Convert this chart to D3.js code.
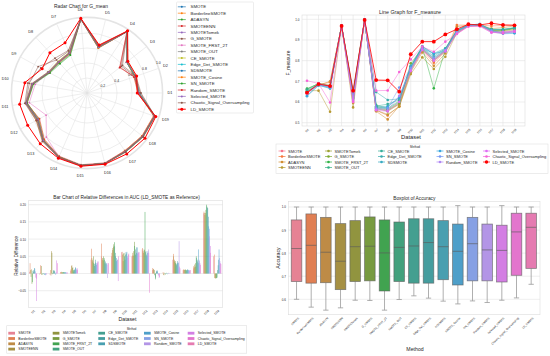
<!DOCTYPE html>
<html><head><meta charset="utf-8">
<script src="https://cdnjs.cloudflare.com/ajax/libs/d3/7.8.5/d3.min.js"></script>
<style>
body{margin:0;background:#fff}
svg{display:block}
text{font-family:"Liberation Sans",Arial,sans-serif;fill:#262626}
</style></head>
<body><svg id="c" width="550" height="356"></svg>
<script>
// ---------------- DATA ----------------
const methods = ["SMOTE","BorderlineSMOTE","ADASYN","SMOTEENN","SMOTETomek","G_SMOTE","SMOTE_FRST_2T","SMOTE_OUT","CE_SMOTE","Edge_Det_SMOTE","SDSMOTE","SMOTE_Cosine","SN_SMOTE","Random_SMOTE","Selected_SMOTE","Chaotic_Signal_Oversampling","LD_SMOTE"];
const datasets = ["D1","D2","D3","D4","D5","D6","D7","D8","D9","D10","D11","D12","D13","D14","D15","D16","D17","D18","D19"];

const radarTicks = [0.2,0.4,0.6,0.8,1.0];
const lineTicks = [0.5,0.6,0.7,0.8,0.9,1.0];
const barTicks = [-0.05,0.00,0.05,0.10,0.15,0.20];
const boxTicks = [0.6,0.7,0.8,0.9,1.0];

// G_mean per method (rows) and dataset (columns)
const radarGmean = [
 [0.69,0.68,0.68,0.98,0.63,0.99,0.58,0.56,0.57,0.73,0.82,0.75,0.86,0.93,0.97,0.97,0.93,0.94,0.95],
 [0.70,0.69,0.69,0.98,0.64,0.99,0.59,0.57,0.59,0.75,0.83,0.77,0.87,0.94,0.97,0.97,0.94,0.95,0.96],
 [0.69,0.67,0.67,0.98,0.62,0.99,0.55,0.53,0.56,0.72,0.81,0.73,0.85,0.93,0.97,0.97,0.93,0.94,0.95],
 [0.68,0.66,0.56,0.97,0.62,0.98,0.57,0.55,0.58,0.74,0.82,0.72,0.84,0.92,0.96,0.96,0.92,0.93,0.94],
 [0.69,0.68,0.68,0.98,0.63,0.99,0.58,0.56,0.58,0.74,0.82,0.75,0.86,0.93,0.97,0.97,0.93,0.94,0.95],
 [0.71,0.68,0.58,0.98,0.65,0.99,0.61,0.60,0.74,0.78,0.83,0.76,0.87,0.94,0.97,0.97,0.94,0.95,0.96],
 [0.69,0.68,0.67,0.98,0.63,0.99,0.58,0.56,0.58,0.70,0.78,0.62,0.80,0.93,0.97,0.97,0.93,0.94,0.95],
 [0.69,0.68,0.67,0.98,0.63,0.99,0.59,0.57,0.59,0.75,0.83,0.76,0.86,0.93,0.97,0.97,0.93,0.94,0.95],
 [0.69,0.68,0.68,0.98,0.64,0.99,0.59,0.57,0.58,0.74,0.82,0.75,0.87,0.93,0.97,0.97,0.94,0.95,0.95],
 [0.70,0.68,0.68,0.98,0.63,0.99,0.58,0.56,0.58,0.74,0.82,0.75,0.86,0.93,0.97,0.97,0.94,0.95,0.96],
 [0.69,0.68,0.67,0.98,0.63,0.99,0.58,0.55,0.57,0.73,0.82,0.74,0.86,0.94,0.97,0.97,0.93,0.94,0.95],
 [0.68,0.67,0.67,0.98,0.62,0.99,0.57,0.55,0.57,0.73,0.81,0.73,0.85,0.93,0.97,0.97,0.92,0.93,0.94],
 [0.69,0.68,0.67,0.98,0.63,0.99,0.56,0.54,0.57,0.73,0.81,0.74,0.86,0.93,0.97,0.97,0.93,0.94,0.95],
 [0.69,0.67,0.55,0.98,0.64,0.99,0.58,0.56,0.58,0.74,0.82,0.75,0.86,0.93,0.97,0.97,0.93,0.94,0.95],
 [0.69,0.68,0.67,0.98,0.63,0.99,0.58,0.56,0.58,0.74,0.82,0.74,0.86,0.94,0.97,0.97,0.93,0.94,0.95],
 [0.72,0.69,0.60,0.98,0.65,0.99,0.62,0.63,0.70,0.80,0.84,0.77,0.88,0.94,0.97,0.97,0.94,0.95,0.96],
 [0.67,0.70,0.69,0.99,0.66,1.00,0.73,0.73,0.68,0.84,0.91,0.90,0.92,0.95,0.98,0.98,0.97,0.98,0.97]
];

// F_measure per method (rows) and dataset (columns)
const lineFmeasure = [
 [0.640,0.690,0.680,0.968,0.640,0.997,0.565,0.560,0.590,0.760,0.855,0.800,0.850,0.930,0.968,0.970,0.940,0.935,0.945],
 [0.645,0.685,0.695,0.968,0.620,0.997,0.560,0.535,0.580,0.755,0.850,0.790,0.845,0.972,0.972,0.972,0.968,0.970,0.972],
 [0.650,0.680,0.700,0.968,0.595,0.997,0.555,0.516,0.580,0.745,0.840,0.775,0.835,0.965,0.970,0.972,0.955,0.960,0.968],
 [0.655,0.655,0.553,0.968,0.574,0.997,0.560,0.540,0.577,0.735,0.816,0.760,0.819,0.935,0.968,0.970,0.945,0.945,0.955],
 [0.650,0.685,0.675,0.968,0.630,0.997,0.570,0.555,0.590,0.750,0.855,0.800,0.845,0.935,0.968,0.970,0.942,0.940,0.950],
 [0.660,0.690,0.680,0.968,0.635,0.997,0.575,0.560,0.595,0.787,0.860,0.805,0.850,0.940,0.970,0.972,0.945,0.945,0.955],
 [0.665,0.688,0.678,0.968,0.640,0.997,0.580,0.565,0.600,0.770,0.865,0.666,0.855,0.945,0.970,0.972,0.948,0.948,0.958],
 [0.662,0.688,0.675,0.968,0.645,0.997,0.585,0.570,0.605,0.770,0.862,0.810,0.855,0.942,0.970,0.972,0.950,0.950,0.958],
 [0.655,0.686,0.672,0.968,0.640,0.997,0.580,0.590,0.610,0.765,0.865,0.820,0.858,0.945,0.970,0.975,0.952,0.952,0.960],
 [0.652,0.684,0.670,0.968,0.635,0.997,0.648,0.610,0.615,0.770,0.868,0.835,0.860,0.945,0.972,0.975,0.950,0.950,0.958],
 [0.630,0.682,0.665,0.968,0.625,0.997,0.575,0.580,0.620,0.775,0.870,0.830,0.855,0.948,0.972,0.977,0.945,0.935,0.935],
 [0.628,0.680,0.668,0.968,0.620,0.997,0.570,0.575,0.625,0.760,0.860,0.835,0.845,0.945,0.972,0.977,0.940,0.930,0.932],
 [0.640,0.684,0.672,0.968,0.615,0.997,0.568,0.570,0.670,0.765,0.858,0.815,0.850,0.940,0.970,0.975,0.945,0.932,0.940],
 [0.645,0.686,0.674,0.968,0.610,0.997,0.565,0.560,0.630,0.755,0.855,0.805,0.850,0.935,0.968,0.972,0.940,0.935,0.945],
 [0.642,0.688,0.676,0.968,0.605,0.997,0.560,0.555,0.600,0.750,0.852,0.800,0.845,0.930,0.966,0.968,0.935,0.940,0.942],
 [0.703,0.690,0.598,0.968,0.600,0.997,0.655,0.656,0.745,0.806,0.868,0.843,0.892,0.929,0.965,0.965,0.937,0.932,0.940],
 [0.645,0.687,0.677,0.968,0.655,0.997,0.706,0.705,0.650,0.831,0.892,0.892,0.927,0.952,0.976,0.973,0.981,0.973,0.971]
];

// Relative difference in AUC, per dataset (rows) and method (columns)
const aucRelDiff = [
 [0.005,0.030,0.010,-0.010,0.012,-0.030,-0.025,0.008,0.005,0.010,0.016,0.014,0.006,-0.012,-0.080,-0.015,0],
 [-0.003,0.024,0.002,-0.004,0.022,0.000,-0.003,-0.002,0.001,0.000,-0.004,-0.003,-0.005,-0.002,-0.003,0.000,0],
 [-0.004,0.010,-0.006,0.065,0.060,-0.002,0.002,0.008,0.010,0.008,0.006,0.002,-0.004,0.003,0.038,0.030,0],
 [0.003,0.004,0.003,0.005,0.004,0.003,0.004,0.004,0.003,0.004,0.003,0.004,0.003,0.003,0.002,0.003,0],
 [0.008,0.012,0.022,0.024,0.016,0.018,0.010,0.006,0.010,0.012,0.018,0.016,0.010,0.014,0.015,0.010,0],
 [0,0,0,0,0,0,0,0,0,0,0,0,0,0,0,0,0],
 [0.040,0.072,0.045,0.040,0.035,0.050,0.030,0.022,0.028,0.040,0.032,0.025,0.030,0.035,0.030,0.035,0],
 [0.050,0.087,0.040,0.045,0.038,0.050,0.045,0.040,0.030,0.035,0.028,0.030,0.025,-0.013,0.030,0.030,0],
 [0.050,0.060,0.068,0.074,0.078,0.085,0.091,0.079,0.060,0.050,0.045,0.036,0.040,0.040,-0.022,0.050,0],
 [0.062,0.063,0.055,0.036,0.058,0.060,0.050,0.040,0.055,0.062,0.058,0.063,0.050,0.045,0.055,0.058,0],
 [0.050,0.052,0.060,0.052,0.065,0.092,0.080,0.055,0.070,0.076,0.060,0.076,0.058,0.063,0.060,0.062,0],
 [0.070,0.074,0.065,0.060,0.070,0.068,0.179,0.062,0.065,0.055,0.050,0.060,0.065,0.070,0.060,-0.056,0],
 [0.010,0.016,0.012,0.013,0.010,-0.005,-0.017,-0.012,0.005,0.008,0.009,0.006,-0.003,-0.006,-0.013,-0.010,0],
 [0.000,0.004,-0.004,-0.005,0.002,0.000,-0.003,0.001,0.002,0.000,-0.002,0.000,0.001,0.002,0.001,0.000,0],
 [0.040,0.057,0.050,0.040,0.035,0.036,0.030,0.028,0.024,0.030,0.036,0.030,0.032,0.094,0.020,0.015,0],
 [0.010,0.012,0.010,0.011,0.010,0.012,0.010,0.009,0.010,0.011,0.012,0.010,0.009,0.010,0.008,0.010,0],
 [0.015,0.021,0.018,0.026,0.020,0.030,0.050,0.045,0.040,0.035,0.030,0.070,0.040,0.036,0.030,0.025,0],
 [0.175,0.180,0.176,0.170,0.176,0.185,0.200,0.195,0.192,0.190,0.165,0.137,0.130,0.108,0.080,0.060,0],
 [0.050,0.055,-0.013,-0.015,-0.013,-0.014,-0.013,-0.012,0.010,0.024,0.040,0.070,0.045,0.036,0.030,0.028,0]
];

// Accuracy box statistics per method
const boxLow  = [0.600,0.566,0.553,0.563,0.596,0.595,0.553,0.599,0.615,0.605,0.592,0.580,0.593,0.586,0.596,0.606,0.665];
const boxQ1   = [0.677,0.670,0.672,0.642,0.677,0.680,0.636,0.677,0.670,0.670,0.685,0.662,0.680,0.680,0.675,0.704,0.734];
const boxMed  = [0.820,0.834,0.804,0.765,0.828,0.830,0.801,0.825,0.831,0.846,0.828,0.808,0.841,0.814,0.812,0.892,0.912];
const boxQ3   = [0.944,0.970,0.955,0.928,0.941,0.957,0.944,0.935,0.949,0.949,0.941,0.926,0.955,0.926,0.921,0.973,0.973];
const boxHigh = [1.000,1.000,1.000,1.000,1.000,1.000,1.000,1.000,1.000,1.000,1.000,1.006,1.000,1.000,1.006,1.000,1.000];

// ---------------- COLORS ----------------
const tab10 = ["#1f77b4","#ff7f0e","#2ca02c","#d62728","#9467bd","#8c564b","#e377c2","#7f7f7f","#bcbd22","#17becf"];
const HM = [[3.240969941904521,-1.537383177570093,-0.498610760293],[-0.96924363628087,1.87596750150772,0.041555057407175],[0.055630079696993,-0.20397695888897,1.056971514242878]];
const refU=0.19783000664283, refV=0.46831999493879, kappa=903.2962962, eps=0.0088564516;
function maxChroma(L,H){
  const hr=H*Math.PI/180, sinH=Math.sin(hr), cosH=Math.cos(hr);
  const sub1=Math.pow(L+16,3)/1560896, sub2=sub1>eps?sub1:L/kappa;
  let res=Infinity;
  for(const [m1,m2,m3] of HM){
    const top=(0.99915*m1+1.05122*m2+1.14460*m3)*sub2;
    const rb=0.86330*m3-0.17266*m2, lb=0.12949*m3-0.38848*m1;
    const bottom=(rb*sinH+lb*cosH)*sub2;
    for(const t of [0,1]){const C=L*(top-1.05122*t)/(bottom+0.17266*sinH*t); if(C>0&&C<res)res=C;}
  }
  return res;
}
function husl(h,s,l){
  const C=maxChroma(l,h)/100*s, hr=h*Math.PI/180;
  const U=C*Math.cos(hr), V=C*Math.sin(hr);
  const t=(l+16)/116; const Y= Math.pow(t,3)>eps?Math.pow(t,3):(116*t-16)/kappa;
  const vU=U/(13*l)+refU, vV=V/(13*l)+refV;
  const X=-(9*Y*vU)/((vU-4)*vV-vU*vV);
  const Z=(9*Y-15*vV*Y-vV*X)/(3*vV);
  const rgb=HM.map(r=>r[0]*X+r[1]*Y+r[2]*Z).map(c=>c<=0.0031308?12.92*c:1.055*Math.pow(c,1/2.4)-0.055).map(c=>Math.max(0,Math.min(1,c)));
  return d3.rgb(rgb[0]*255,rgb[1]*255,rgb[2]*255).formatHex();
}
const huslPal = methods.map((m,i)=>husl(((i/17+0.01)%1)*359, 89.1, 64.35));
const desat = c=>{const h=d3.hsl(c); h.s*=0.75; return h.formatHex();};
const radarColor = i=> i===16 ? "#ff0000" : tab10[i%10];
const lineColor = i=> i===16 ? "#ff0000" : huslPal[i];

const svg = d3.select("#c");
svg.append("rect").attr("width",550).attr("height",356).attr("fill","#fff");
function label(g,x,y,s,size,anchor="middle",rot=0){
  const t=g.append("text").attr("x",x).attr("y",y).attr("font-size",size)
    .attr("text-anchor",anchor).attr("dominant-baseline","central").text(s);
  if(rot) t.attr("transform",`rotate(${rot},${x},${y})`);
  return t;
}
const GRID="#e3e3e3", EDGE="#dcdcdc";

// ---------------- RADAR ----------------
{
  const cx=87, cy=93;
  const R=svg.append("g").attr("transform",`translate(${cx},${cy})`);
  const rS=d3.scaleLinear().domain([0,1]).range([0,75]);
  const aS=d3.scaleLinear().domain([0,19]).range([Math.PI/2, Math.PI/2-2*Math.PI]);
  label(svg,81,6,"Radar Chart for G_mean",4.9);
  R.selectAll("circle.g").data(radarTicks.slice(0,-1)).join("circle")
    .attr("r",d=>rS(d)).attr("fill","none").attr("stroke",GRID).attr("stroke-width",0.6);
  R.selectAll("line.s").data(datasets).join("line")
    .attr("x1",0).attr("y1",0)
    .attr("x2",(d,i)=>rS(1)*Math.sin(aS(i))).attr("y2",(d,i)=>-rS(1)*Math.cos(aS(i)))
    .attr("stroke",GRID).attr("stroke-width",0.6);
  R.append("circle").attr("r",rS(1)+0.6).attr("fill","none").attr("stroke","#e4e4e4").attr("stroke-width",1.6);
  const ra=Math.PI/2-Math.PI/8;
  radarTicks.forEach(t=>{
    label(R,rS(t)*Math.sin(ra)+2,-rS(t)*Math.cos(ra)-1,t.toFixed(1),3.4,"middle");
  });
  datasets.forEach((d,i)=>{
    label(R,83*Math.sin(aS(i)),-83*Math.cos(aS(i)),d,3.8);
  });
  const rl=d3.lineRadial().angle((d,i)=>aS(i)).radius(d=>rS(d)).curve(d3.curveLinearClosed);
  radarGmean.forEach((vals,m)=>{
    const isLD=m===16;
    R.append("path").attr("d",rl(vals)).attr("fill","none").attr("stroke",radarColor(m))
      .attr("stroke-width",isLD?1.0:0.6).attr("stroke-opacity",isLD?1:0.85);
    R.selectAll(null).data(vals).join("circle")
      .attr("cx",(v,i)=>rS(v)*Math.sin(aS(i))).attr("cy",(v,i)=>-rS(v)*Math.cos(aS(i)))
      .attr("r",isLD?1.5:0.9).attr("fill",radarColor(m));
  });
  // legend
  const L=svg.append("g");
  L.append("rect").attr("x",176.5).attr("y",2).attr("width",77).attr("height",111)
    .attr("fill","#fff").attr("stroke","#e0e0e0").attr("stroke-width",0.6).attr("rx",1);
  methods.forEach((m,i)=>{
    const y=6.8+i*6.4;
    L.append("line").attr("x1",177.8).attr("x2",185.8).attr("y1",y).attr("y2",y)
      .attr("stroke",radarColor(i)).attr("stroke-width",i===16?1:0.7);
    L.append("circle").attr("cx",181.8).attr("cy",y).attr("r",i===16?1.5:1).attr("fill",radarColor(i));
    label(L,190.5,y,m,4.4,"start");
  });
}

// ---------------- LINE ----------------
{
  const G=svg.append("g");
  const x=d3.scalePoint().domain(datasets).range([307,514.5]);
  const y=d3.scaleLinear().domain([0.5,1.0]).range([122.7,19.3]);
  const X0=302,X1=525,Y0=15,Y1=126;
  G.append("rect").attr("x",X0).attr("y",Y0).attr("width",X1-X0).attr("height",Y1-Y0).attr("fill","#fff");
  G.selectAll("line.h").data(lineTicks).join("line").attr("x1",X0).attr("x2",X1)
    .attr("y1",d=>y(d)).attr("y2",d=>y(d)).attr("stroke",GRID).attr("stroke-width",0.6);
  G.selectAll("line.v").data(datasets).join("line").attr("y1",Y0).attr("y2",Y1)
    .attr("x1",d=>x(d)).attr("x2",d=>x(d)).attr("stroke",GRID).attr("stroke-width",0.6);
  G.append("rect").attr("x",X0).attr("y",Y0).attr("width",X1-X0).attr("height",Y1-Y0).attr("fill","none").attr("stroke",EDGE).attr("stroke-width",0.6);
  const ay=G.append("g").attr("transform",`translate(${X0},0)`).call(d3.axisLeft(y).tickValues(lineTicks).tickFormat(d3.format(".1f")).tickSize(0).tickPadding(2.5));
  ay.select(".domain").remove(); ay.attr("font-size",3).attr("font-family","Liberation Sans, Arial, sans-serif");
  ay.selectAll("text").attr("fill","#262626");
  const ax=G.append("g").attr("transform",`translate(0,${Y1})`).call(d3.axisBottom(x).tickSize(0).tickPadding(0));
  ax.select(".domain").remove(); ax.attr("font-size",3).attr("font-family","Liberation Sans, Arial, sans-serif");
  ax.selectAll("text").attr("fill","#262626").attr("text-anchor","end").attr("dy","0.35em").attr("y",2.5).attr("x",1).attr("transform","rotate(-45)");
  ax.selectAll(".tick text").attr("transform",null).each(function(){
    d3.select(this).attr("transform","translate(1,3) rotate(-45)").attr("x",0).attr("y",0);
  });
  label(G,410,11.5,"Line Graph for F_measure",5.3);
  label(G,411,136.5,"Dataset",5.8);
  label(G,288.3,63,"F_measure",4.9,"middle",-90);
  const ln=d3.line().x((d,i)=>x(datasets[i])).y(d=>y(d));
  lineFmeasure.forEach((vals,m)=>{
    const isLD=m===16;
    G.append("path").attr("d",ln(vals)).attr("fill","none").attr("stroke",lineColor(m))
      .attr("stroke-width",isLD?0.9:0.6).attr("stroke-opacity",isLD?0.9:0.8);
    G.selectAll(null).data(vals).join("circle").attr("cx",(v,i)=>x(datasets[i])).attr("cy",v=>y(v))
      .attr("r",isLD?1.9:1.3).attr("fill",lineColor(m));
  });
  // legend
  const L=svg.append("g");
  L.append("rect").attr("x",276).attr("y",144).attr("width",272).attr("height",29.5).attr("fill","#fff").attr("stroke","#e0e0e0").attr("stroke-width",0.6);
  label(L,415,147.3,"Method",3);
  const colX=[282,328.5,381.5,440,486.5];
  const colStart=[0,4,8,11,14];
  methods.forEach((m,i)=>{
    let c=0; for(let k=0;k<5;k++) if(i>=colStart[k]) c=k;
    const r=i-colStart[c];
    const yy=151+r*5.5;
    L.append("line").attr("x1",colX[c]-3.5).attr("x2",colX[c]+3.5).attr("y1",yy).attr("y2",yy).attr("stroke",lineColor(i)).attr("stroke-width",0.7);
    L.append("circle").attr("cx",colX[c]).attr("cy",yy).attr("r",i===16?1.7:1.3).attr("fill",lineColor(i));
    label(L,colX[c]+6,yy,m,4,"start");
  });
}

// ---------------- BAR ----------------
{
  const G=svg.append("g");
  const X0=28.3,X1=222.7,Y0=200.7,Y1=307.3;
  const x=d3.scaleLinear().domain([-0.5,18.5]).range([X0,X1]);
  const y=d3.scaleLinear().domain([-0.05,0.20]).range([290.7,204.7]);
  G.append("rect").attr("x",X0).attr("y",Y0).attr("width",X1-X0).attr("height",Y1-Y0).attr("fill","#fff");
  G.selectAll("line.h").data(barTicks).join("line").attr("x1",X0).attr("x2",X1)
    .attr("y1",d=>y(d)).attr("y2",d=>y(d)).attr("stroke",GRID).attr("stroke-width",0.6);
  const bw=0.8/17;
  aucRelDiff.forEach((row,di)=>{
    row.forEach((v,m)=>{
      const x0=x(di-0.4+m*bw), x1=x(di-0.4+(m+1)*bw);
      G.append("rect").attr("x",x0).attr("width",x1-x0)
        .attr("y",y(Math.max(0,v))).attr("height",Math.abs(y(v)-y(0)))
        .attr("fill",desat(huslPal[m]));
    });
  });
  G.append("rect").attr("x",X0).attr("y",Y0).attr("width",X1-X0).attr("height",Y1-Y0).attr("fill","none").attr("stroke",EDGE).attr("stroke-width",0.6);
  const ay=G.append("g").attr("transform",`translate(${X0},0)`).call(d3.axisLeft(y).tickValues(barTicks).tickFormat(d3.format(".2f")).tickSize(0).tickPadding(2.5));
  ay.select(".domain").remove(); ay.attr("font-size",3).attr("font-family","Liberation Sans, Arial, sans-serif");
  ay.selectAll("text").attr("fill","#262626");
  const xs=d3.scaleBand().domain(datasets).range([X0,X1]);
  const ax=G.append("g").attr("transform",`translate(0,${Y1})`).call(d3.axisBottom(xs).tickSize(0).tickPadding(0));
  ax.select(".domain").remove(); ax.attr("font-size",3).attr("font-family","Liberation Sans, Arial, sans-serif");
  ax.selectAll(".tick text").attr("fill","#262626").attr("text-anchor","end").attr("dy","0.35em").attr("x",0).attr("y",0).attr("transform","translate(1,3) rotate(-45)");
  label(G,126.5,197.2,"Bar Chart of Relative Differences in AUC (LD_SMOTE as Reference)",4.8);
  label(G,127.5,319,"Dataset",5.2);
  label(G,16,256,"Relative Difference",4.7,"middle",-90);
  const L=svg.append("g");
  L.append("rect").attr("x",6.7).attr("y",325.7).attr("width",240).attr("height",27.5).attr("fill","#fff").attr("stroke","#e0e0e0").attr("stroke-width",0.6);
  label(L,131.7,328.8,"Method",2.8);
  const colX=[18.3,62.7,108.3,154,197.7];
  const colStart=[0,4,8,11,14];
  methods.forEach((m,i)=>{
    let c=0; for(let k=0;k<5;k++) if(i>=colStart[k]) c=k;
    const r=i-colStart[c];
    const yy=333.2+r*5.3;
    L.append("rect").attr("x",colX[c]-10).attr("y",yy-1.4).attr("width",6.7).attr("height",2.8).attr("fill",desat(huslPal[i]));
    label(L,colX[c],yy,m,3.5,"start");
  });
}

// ---------------- BOX ----------------
{
  const G=svg.append("g");
  const X0=288.3,X1=540,Y0=201.3,Y1=314.7;
  const x=d3.scaleLinear().domain([-0.5,16.5]).range([289.2,538.5]);
  const y=d3.scaleLinear().domain([0.6,1.0]).range([299.3,207]);
  G.append("rect").attr("x",X0).attr("y",Y0).attr("width",X1-X0).attr("height",Y1-Y0).attr("fill","#fff");
  G.selectAll("line.h").data(boxTicks).join("line").attr("x1",X0).attr("x2",X1)
    .attr("y1",d=>y(d)).attr("y2",d=>y(d)).attr("stroke",GRID).attr("stroke-width",0.6);
  G.append("rect").attr("x",X0).attr("y",Y0).attr("width",X1-X0).attr("height",Y1-Y0).attr("fill","none").attr("stroke",EDGE).attr("stroke-width",0.6);
  const hw=0.36, LC="#5c5c5c";
  methods.forEach((m,i)=>{
    const cx=x(i), l=x(i-hw), r=x(i+hw), cl=x(i-hw/2), cr=x(i+hw/2);
    G.append("line").attr("x1",cx).attr("x2",cx).attr("y1",y(boxQ3[i])).attr("y2",y(boxHigh[i])).attr("stroke","#9a9a9a").attr("stroke-width",0.8);
    G.append("line").attr("x1",cx).attr("x2",cx).attr("y1",y(boxQ1[i])).attr("y2",y(boxLow[i])).attr("stroke","#9a9a9a").attr("stroke-width",0.8);
    G.append("line").attr("x1",cl).attr("x2",cr).attr("y1",y(boxHigh[i])).attr("y2",y(boxHigh[i])).attr("stroke","#9a9a9a").attr("stroke-width",0.8);
    G.append("line").attr("x1",cl).attr("x2",cr).attr("y1",y(boxLow[i])).attr("y2",y(boxLow[i])).attr("stroke","#9a9a9a").attr("stroke-width",0.8);
    G.append("rect").attr("x",l).attr("width",r-l).attr("y",y(boxQ3[i])).attr("height",y(boxQ1[i])-y(boxQ3[i]))
      .attr("fill",desat(huslPal[i])).attr("stroke",LC).attr("stroke-opacity",0.7).attr("stroke-width",0.8);
    G.append("line").attr("x1",l).attr("x2",r).attr("y1",y(boxMed[i])).attr("y2",y(boxMed[i])).attr("stroke",LC).attr("stroke-opacity",0.8).attr("stroke-width",0.8);
  });
  const ay=G.append("g").attr("transform",`translate(${X0},0)`).call(d3.axisLeft(y).tickValues(boxTicks).tickFormat(d3.format(".1f")).tickSize(0).tickPadding(2.5));
  ay.select(".domain").remove(); ay.attr("font-size",3).attr("font-family","Liberation Sans, Arial, sans-serif");
  ay.selectAll("text").attr("fill","#262626");
  const xs=d3.scalePoint().domain(methods).range([x(0),x(16)]);
  const ax=G.append("g").attr("transform",`translate(0,${Y1})`).call(d3.axisBottom(xs).tickSize(0).tickPadding(0));
  ax.select(".domain").remove(); ax.attr("font-size",2.8).attr("font-family","Liberation Sans, Arial, sans-serif");
  ax.selectAll(".tick text").attr("fill","#262626").attr("text-anchor","end").attr("dy","0.35em").attr("x",0).attr("y",0).attr("transform","translate(1.5,3) rotate(-45)");
  label(G,414.3,198,"Boxplot of Accuracy",4.8);
  label(G,415,349,"Method",5.2);
  label(G,278.3,258,"Accuracy",5.2,"middle",-90);
}
</script></body></html>
